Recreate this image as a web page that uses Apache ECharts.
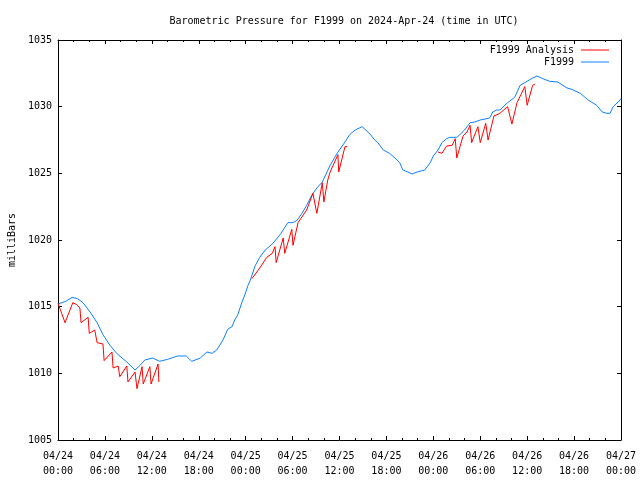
<!DOCTYPE html>
<html>
<head>
<meta charset="utf-8">
<script src="https://cdn.jsdelivr.net/npm/echarts@6/dist/echarts.min.js"></script>
<style>html,body{margin:0;padding:0;background:#fff}#c{width:640px;height:480px}</style>
</head>
<body>
<div id="c"></div>
<script>
// Hours since 2024-04-24 00:00 UTC
const obsHours = [0,1,1.8,2.5,3.2,4.1,5,5.75,6.65,7.5,8.8,9.85,10.5,11.1,12.1,13,14,15.3,16.4,17.1,18.2,19.05,19.7,20.3,21.1,21.7,22.25,22.6,23.0,23.5,23.9,24.3,24.6,25.2,25.8,26.5,27.4,28.4,29.4,30.05,30.6,31.2,31.8,32.5,33.1,33.8,34.8,35.7,36.7,37.3,38,38.9,39.9,40.5,40.9,41.6,42.4,43.1,43.7,44.1,44.75,45.3,45.9,46.9,47.6,48.0,48.6,49.1,49.7,50.1,51.0,51.4,52.0,52.7,53.3,54.0,55.2,55.6,56.1,56.5,57.5,58.4,59.1,59.7,60.7,61.25,62,62.9,63.9,65.1,65.7,66.8,67.8,68.9,69.6,70.2,70.6,71.0,71.9,72];
const obsValues = [1015.2,1015.4,1015.7,1015.6,1015.3,1014.6,1013.8,1012.9,1012.1,1011.5,1010.85,1010.25,1010.6,1011.0,1011.15,1010.9,1011.05,1011.3,1011.3,1010.9,1011.15,1011.6,1011.5,1011.75,1012.5,1013.3,1013.5,1014.0,1014.4,1015.3,1015.9,1016.6,1017.0,1018.05,1018.7,1019.25,1019.7,1020.4,1021.3,1021.3,1021.5,1022.0,1022.6,1023.4,1023.9,1024.35,1025.6,1026.5,1027.35,1027.9,1028.25,1028.5,1027.95,1027.5,1027.3,1026.75,1026.5,1026.15,1025.8,1025.25,1025.1,1024.95,1025.1,1025.25,1025.8,1026.3,1026.75,1027.3,1027.6,1027.7,1027.7,1027.9,1028.25,1028.8,1028.85,1029.0,1029.15,1029.6,1029.75,1029.75,1030.3,1030.7,1031.6,1031.8,1032.15,1032.3,1032.1,1031.9,1031.85,1031.4,1031.3,1031.0,1030.5,1030.1,1029.6,1029.5,1029.5,1030.0,1030.5,1030.6];

const anaHours = [0,0.9,1.9,2.4,2.8,2.95,3.85,4.0,4.7,5.0,5.75,5.9,6.9,7.05,7.7,7.9,8.8,8.95,9.85,10.1,10.75,10.9,11.75,11.9,12.8,12.9,
  13.0,
  24.8,25.8,26.7,27.4,27.75,27.9,28.8,29.0,29.9,30.05,30.7,31.8,32.6,33.1,33.8,34.0,34.5,34.8,35.8,35.9,36.7,37.0,
  37.1,
  48.6,49.1,49.7,50.4,50.8,51.0,51.8,52.3,52.7,52.9,53.7,54.0,54.7,55.0,55.75,56.5,57.5,58.05,58.7,59.2,59.7,60.0,60.7,61.0];
const anaValues = [1015.25,1013.8,1015.3,1015.15,1014.9,1013.8,1014.2,1013.0,1013.25,1012.3,1012.2,1010.95,1011.6,1010.4,1010.55,1009.75,1010.55,1009.35,1010.1,1008.85,1010.5,1009.2,1010.5,1009.2,1010.7,1009.35,
  null,
  1017.1,1017.9,1018.7,1019.0,1019.5,1018.3,1020.15,1019.0,1020.8,1019.6,1021.3,1022.25,1023.5,1022.0,1024.3,1022.85,1024.5,1025.1,1026.4,1025.1,1027.0,1027.0,
  null,
  1026.6,1026.5,1027.05,1027.1,1027.6,1026.15,1027.8,1028.1,1028.6,1027.3,1028.5,1027.3,1028.75,1027.5,1029.3,1029.5,1030.0,1028.7,1030.3,1030.9,1031.5,1030.1,1031.6,1031.7];

const startDay = 24;
const titleText = 'Barometric Pressure for F1999 on 2024-Apr-24 (time in UTC)';

const FONT = 'DejaVu Sans Mono';
const pad = n => (n < 10 ? '0' : '') + n;
function hourLabel(h) {
  const d = startDay + Math.floor(h / 24);
  const hh = Math.round(h % 24);
  return '04/' + pad(d) + '\n' + pad(hh) + ':00';
}

const chart = echarts.init(document.getElementById('c'), null, {renderer: 'canvas'});
const baseX = {
  type: 'value', min: 0, max: 72, interval: 6,
  axisLine: {show: true, onZero: false, lineStyle: {color: '#000', width: 1}},
  axisTick: {show: true, inside: true, length: 4, lineStyle: {color: '#000'}},
  minorTick: {show: true, splitNumber: 3, length: 2, lineStyle: {color: '#000'}},
  splitLine: {show: false}
};
const baseY = {
  type: 'value', min: 1005, max: 1035, interval: 5,
  axisLine: {show: true, onZero: false, lineStyle: {color: '#000', width: 1}},
  axisTick: {show: true, inside: true, length: 4, lineStyle: {color: '#000'}},
  splitLine: {show: false}
};

chart.setOption({
  animation: false,
  backgroundColor: '#fff',
  textStyle: {fontFamily: FONT},
  title: {
    text: titleText, left: 339, top: 11, textAlign: 'center',
    textStyle: {fontFamily: FONT, fontSize: 10, fontWeight: 'normal', color: '#000'}
  },
  legend: [
    {data: ['F1999 Analysis'], right: 31, top: 45, padding: 0, align: 'right', icon: 'rect',
     itemWidth: 28, itemHeight: 1, textStyle: {fontFamily: FONT, fontSize: 10, color: '#000', padding: [0, 2, 0, 0]}},
    {data: ['F1999'], right: 31, top: 57, padding: 0, align: 'right', icon: 'rect',
     itemWidth: 28, itemHeight: 1, textStyle: {fontFamily: FONT, fontSize: 10, color: '#000', padding: [0, 2, 0, 0]}}
  ],
  grid: {left: 58, right: 19, top: 40, bottom: 40, containLabel: false, outerBoundsMode: 'none'},
  xAxis: [
    Object.assign({}, baseX, {
      position: 'bottom',
      axisLabel: {show: true, color: '#000', fontFamily: FONT, fontSize: 10, lineHeight: 15, margin: 9,
        formatter: v => hourLabel(v)}
    }),
    Object.assign({}, baseX, {position: 'top', axisLabel: {show: false}})
  ],
  yAxis: [
    Object.assign({}, baseY, {
      position: 'left',
      name: 'milliBars', nameLocation: 'middle', nameGap: 41, nameRotate: 90,
      nameTextStyle: {fontFamily: FONT, fontSize: 10, color: '#000'},
      axisLabel: {show: true, color: '#000', fontFamily: FONT, fontSize: 10, margin: 6,
        formatter: v => String(v)}
    }),
    Object.assign({}, baseY, {position: 'right', axisLabel: {show: false}})
  ],
  series: [
    {
      name: 'F1999 Analysis', type: 'line', xAxisIndex: 0, yAxisIndex: 0,
      data: anaHours.map((h, i) => [h, anaValues[i]]),
      showSymbol: false, symbol: 'none', connectNulls: false,
      lineStyle: {color: '#ff0000', width: 1}, itemStyle: {color: '#ff0000'}, z: 3
    },
    {
      name: 'F1999', type: 'line', xAxisIndex: 0, yAxisIndex: 0,
      data: obsHours.map((h, i) => [h, obsValues[i]]),
      showSymbol: false, symbol: 'none',
      lineStyle: {color: '#0d80ff', width: 1}, itemStyle: {color: '#0d80ff'}, z: 2
    }
  ]
});
</script>
</body>
</html>
